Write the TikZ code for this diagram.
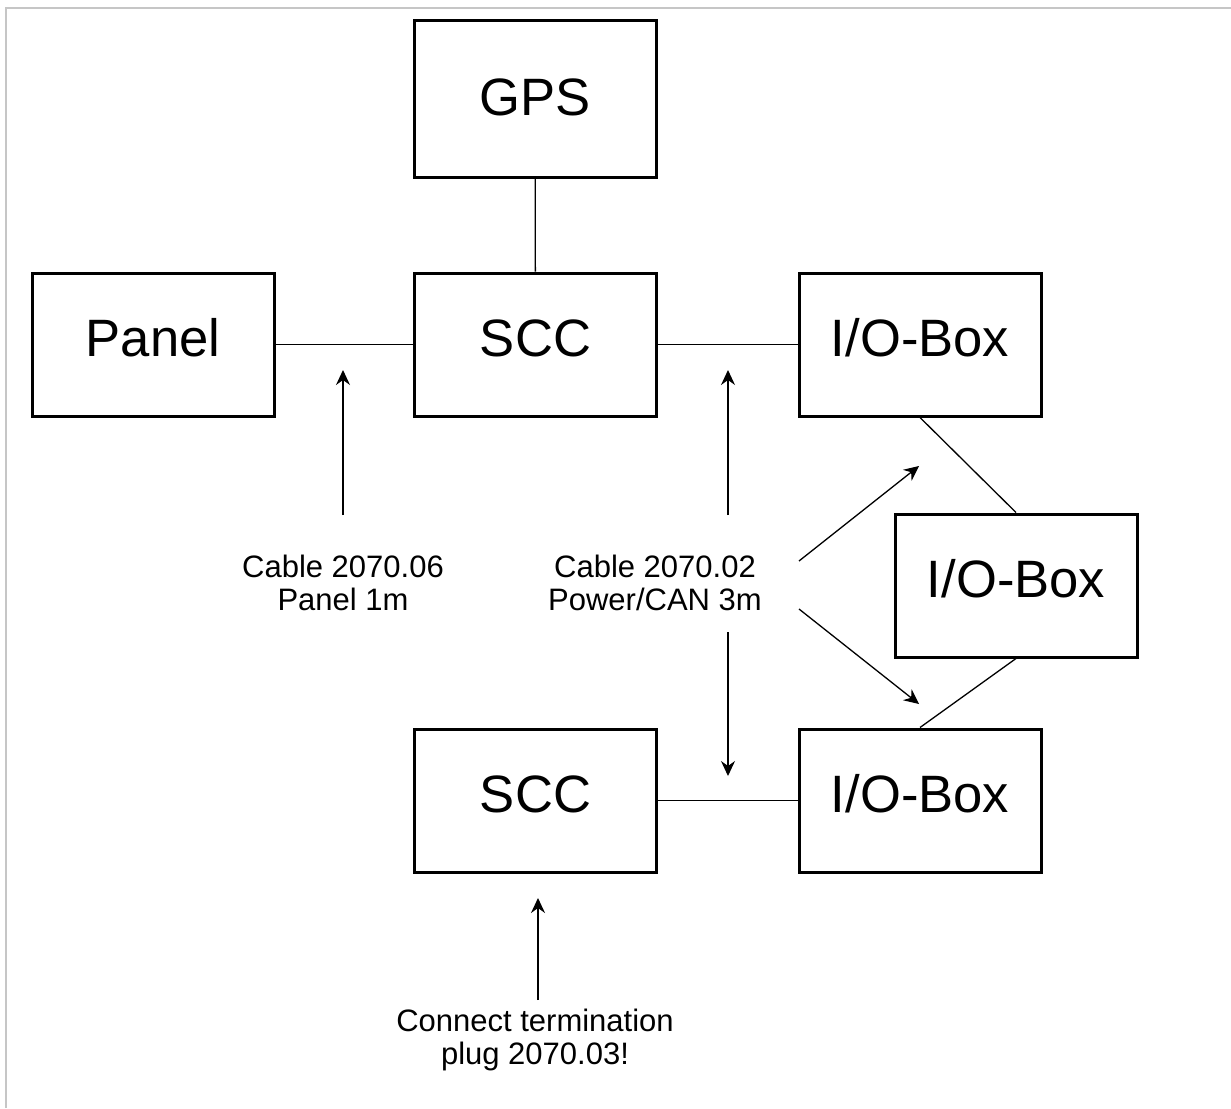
\documentclass[tikz,border=0pt]{standalone}
\usepackage{fontspec}
\setmainfont{Liberation Sans}
\usetikzlibrary{arrows.meta,positioning,calc}
\definecolor{framegray}{HTML}{C6C6C6}

\begin{document}
\begin{tikzpicture}[x=0.5pt, y=-0.5pt,
    every node/.style={font=\fontsize{15.5}{16.5}\selectfont},
    unit/.style={rectangle, draw, line width=1.5pt, inner sep=0pt,
        minimum width=121pt, minimum height=71.5pt,
        text height=18.6pt, text depth=7pt,
        font=\fontsize{26.3}{30}\selectfont},
    note/.style={align=center, inner sep=0pt},
    link/.style={line width=0.65pt},
    cable/.style={line width=0.65pt, -{Stealth[length=7.5pt, width=7pt, inset=2.5pt]}},
]
\useasboundingbox (0,0) rectangle (1231,1108);

% frame
\draw[framegray, line width=1pt] (6,1108) |- (1231,8);

% units
\node[unit, minimum height=78.5pt, text depth=1.5pt] (gps) at (535,98.5) {GPS};
\node[unit] (scc) at (535.5,344.5) {SCC};
\node[unit] (panel) at (153,344.5) {Panel};
\node[unit] (io1) at (920,344.5) {I/O-Box};
\node[unit] (io2) at (1016,585.5) {I/O-Box};
\node[unit] (io3) at (920,800.5) {I/O-Box};
\node[unit] (scc2) at (535.5,800.5) {SCC};

% wiring
\draw[link] (gps) -- (scc);
\draw[link] (panel) -- (scc);
\draw[link] (scc) -- (io1);
\draw[link] (io1.south) -- (io2.north);
\draw[link] (io2.south) -- (io3.north);
\draw[link] (scc2) -- (io3);

% cable notes
\node[note] (panelcable) at (343,583) {Cable 2070.06\\Panel 1m};
\node[note] (cancable) at (655,583) {Cable 2070.02\\Power/CAN 3m};
\node[note] (termplug) at (535,1040) {Connect termination\\plug 2070.03!};

\coordinate (panelfrom) at (343,515);
\coordinate (panelto) at (343,370);
\coordinate (canupfrom) at (728,515);
\coordinate (canupto) at (728,370);
\coordinate (candownfrom) at (728,632);
\coordinate (candownto) at (728,776);
\coordinate (canio2from) at (799,561);
\coordinate (canio2to) at (919,466);
\coordinate (canio3from) at (799,609);
\coordinate (canio3to) at (919,704);
\coordinate (termfrom) at (538,1000);
\coordinate (termto) at (538,898);

\draw[cable] (panelfrom) -- (panelto);
\draw[cable] (canupfrom) -- (canupto);
\draw[cable] (candownfrom) -- (candownto);
\draw[cable] (canio2from) -- (canio2to);
\draw[cable] (canio3from) -- (canio3to);
\draw[cable] (termfrom) -- (termto);

\end{tikzpicture}
\end{document}
